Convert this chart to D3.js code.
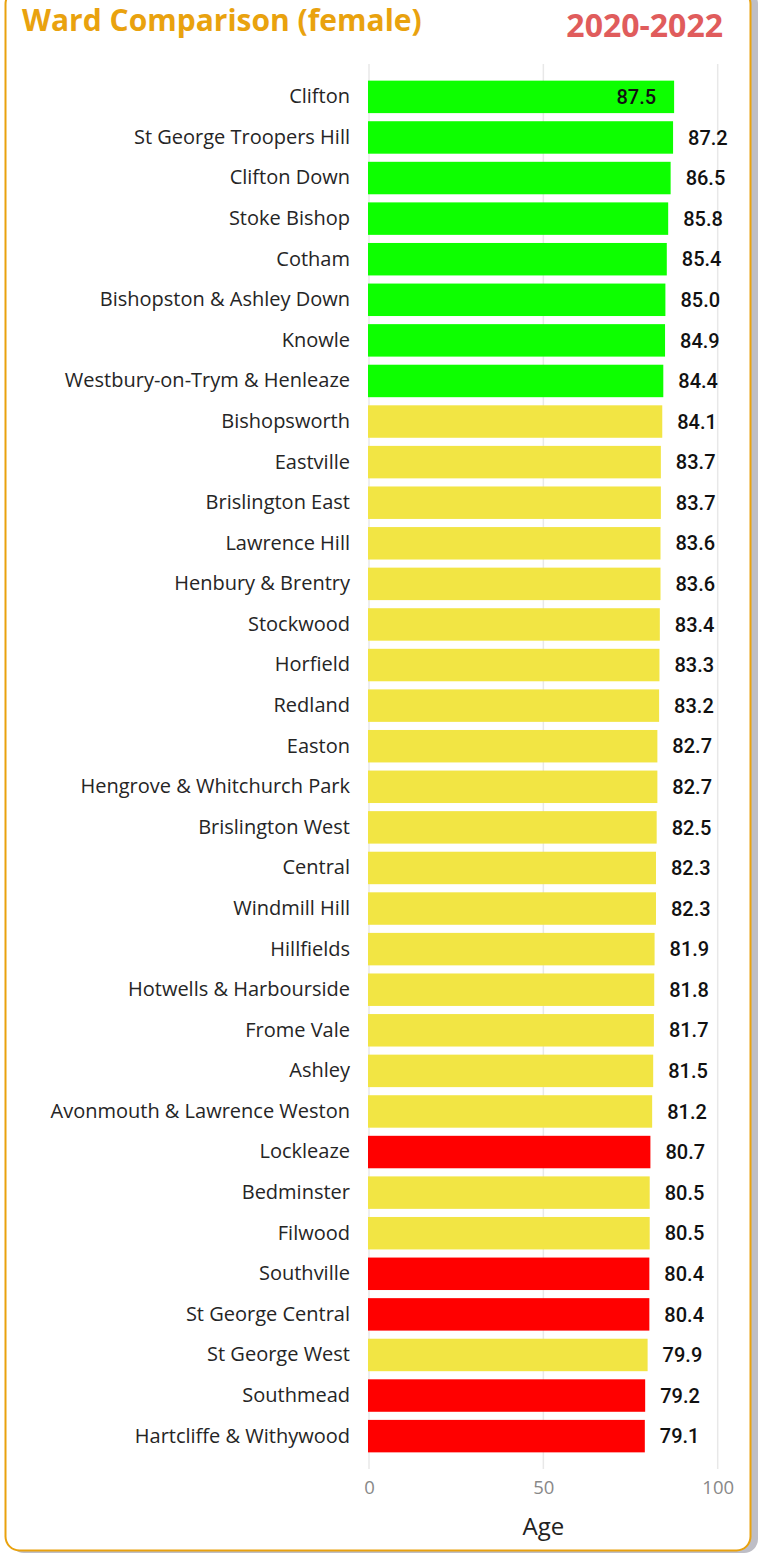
<!DOCTYPE html>
<html>
<head>
<meta charset="utf-8">
<script src="https://cdn.jsdelivr.net/npm/d3@7"></script>
<style>
  html, body { margin: 0; padding: 0; background: #ffffff; }
  svg { display: block; }
</style>
</head>
<body>
<svg id="chart" width="758" height="1553"></svg>
<script>
const wards = [
  "Clifton", "St George Troopers Hill", "Clifton Down", "Stoke Bishop", "Cotham",
  "Bishopston & Ashley Down", "Knowle", "Westbury-on-Trym & Henleaze", "Bishopsworth",
  "Eastville", "Brislington East", "Lawrence Hill", "Henbury & Brentry", "Stockwood",
  "Horfield", "Redland", "Easton", "Hengrove & Whitchurch Park", "Brislington West",
  "Central", "Windmill Hill", "Hillfields", "Hotwells & Harbourside", "Frome Vale",
  "Ashley", "Avonmouth & Lawrence Weston", "Lockleaze", "Bedminster", "Filwood",
  "Southville", "St George Central", "St George West", "Southmead", "Hartcliffe & Withywood"
];
const ages = [
  87.5, 87.2, 86.5, 85.8, 85.4,
  85.0, 84.9, 84.4, 84.1,
  83.7, 83.7, 83.6, 83.6, 83.4,
  83.3, 83.2, 82.7, 82.7, 82.5,
  82.3, 82.3, 81.9, 81.8, 81.7,
  81.5, 81.2, 80.7, 80.5, 80.5,
  80.4, 80.4, 79.9, 79.2, 79.1
];
// g = significantly better, y = similar, r = significantly worse
const status = [
  "g","g","g","g","g","g","g","g","y",
  "y","y","y","y","y","y","y","y","y","y",
  "y","y","y","y","y","y","y","r","y","y",
  "r","r","y","r","r"
];
const xTicks = [0, 50, 100];
const titleText = "Ward Comparison (female)";
const periodText = "2020-2022";
const xAxisTitle = "Age";

const colorMap = { g: "#0DFF00", y: "#F2E544", r: "#FF0000" };
const data = wards.map((w, i) => ({ ward: w, age: ages[i], s: status[i] }));
const FONT = "'Open Sans', 'Noto Sans', sans-serif";

const svg = d3.select("#chart");

// card shadow + card
svg.append("rect").attr("x", 10).attr("y", -10).attr("width", 748).attr("height", 1563)
  .attr("rx", 14).attr("fill", "#BEBEC6");
svg.append("rect").attr("x", 5.5).attr("y", -10).attr("width", 745).attr("height", 1560.5)
  .attr("rx", 14).attr("fill", "#ffffff").attr("stroke", "#E9A20E").attr("stroke-width", 2);

// titles
svg.append("text").attr("x", 22).attr("y", 31)
  .attr("font-family", FONT).attr("font-weight", 700)
  .attr("font-size", 30).attr("fill", "#E9A20E").text(titleText);
svg.append("text").attr("x", 723).attr("y", 37).attr("text-anchor", "end")
  .attr("font-family", FONT).attr("font-weight", 700)
  .attr("font-size", 32).attr("fill", "#E05C5C").text(periodText);

const x = d3.scaleLinear().domain([0, 100]).range([369, 717.7]);
const y = d3.scaleBand().domain(wards).range([64, 1469]).paddingInner(0.2).paddingOuter(0.41);

// gridlines
svg.append("g").selectAll("line").data(xTicks).join("line")
  .attr("x1", d => x(d)).attr("x2", d => x(d))
  .attr("y1", 64).attr("y2", 1469)
  .attr("stroke", "#E8E8E8").attr("stroke-width", 1.5);

// x axis tick labels
const xAxis = d3.axisBottom(x).tickValues(xTicks).tickSize(0).tickPadding(0);
const gx = svg.append("g").attr("transform", "translate(0,1488)").call(xAxis);
gx.select(".domain").remove();
gx.selectAll("text").attr("font-family", FONT)
  .attr("font-size", 18.5).attr("fill", "#888888").attr("dy", "0.35em");

svg.append("text").attr("x", x(50)).attr("y", 1535).attr("text-anchor", "middle")
  .attr("font-family", FONT).attr("font-size", 24)
  .attr("fill", "#222222").text(xAxisTitle);

// y axis labels
const yAxis = d3.axisLeft(y).tickSize(0).tickPadding(0);
const gy = svg.append("g").attr("transform", "translate(350,0)").call(yAxis);
gy.select(".domain").remove();
gy.selectAll("text").attr("font-family", FONT)
  .attr("font-size", 20).attr("fill", "#252525");

// bars
svg.append("g").selectAll("rect").data(data).join("rect")
  .attr("x", x(0) - 1).attr("y", d => y(d.ward))
  .attr("width", d => x(d.age) - x(0) + 1).attr("height", y.bandwidth())
  .attr("fill", d => colorMap[d.s]);

// value labels
const maxAge = d3.max(ages);
svg.append("g").selectAll("text").data(data).join("text")
  .attr("x", d => d.age === maxAge ? x(d.age) - 18 : x(d.age) + 15)
  .attr("y", d => y(d.ward) + y.bandwidth() / 2)
  .attr("dy", "0.36em")
  .attr("text-anchor", d => d.age === maxAge ? "end" : "start")
  .attr("font-family", "Roboto, sans-serif").attr("font-weight", 500)
  .attr("font-size", 20).attr("fill", "#111111")
  .text(d => d3.format(".1f")(d.age));
</script>
</body>
</html>
